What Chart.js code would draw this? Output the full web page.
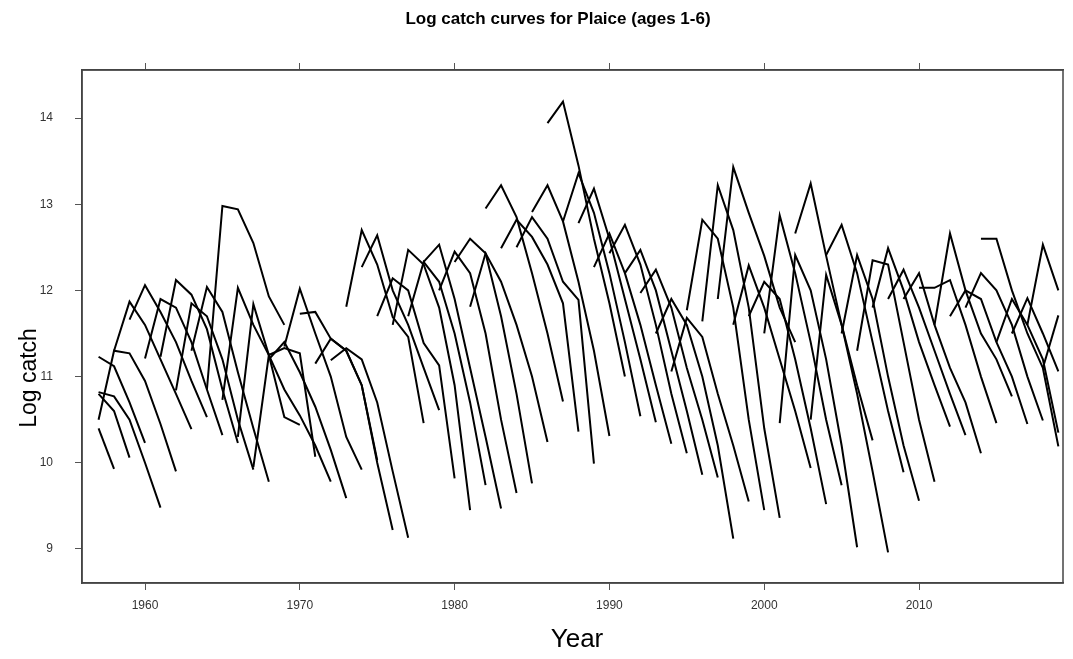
<!DOCTYPE html>
<html>
<head>
<meta charset="utf-8">
<title>Log catch curves for Plaice</title>
<script src="https://cdn.jsdelivr.net/npm/chart.js@4.4.1/dist/chart.umd.min.js"></script>
<style>
  html, body { margin: 0; padding: 0; background: #fff; }
  #wrap { width: 1073px; height: 659px; }
</style>
</head>
<body>
<div id="wrap"><canvas id="catchChart" width="1073" height="659"></canvas></div>
<script>
// Axis ticks
const xTicks = [1960, 1970, 1980, 1990, 2000, 2010];
const yTicks = [9, 10, 11, 12, 13, 14];

// First year plotted for each cohort line (age 1 year, or 1957 for older cohorts)
const firstYear = [
  1957, 1957, 1957, 1957, 1957, 1958, 1959, 1960, 1961, 1962,
  1963, 1964, 1965, 1966, 1967, 1968, 1969, 1970, 1971, 1972,
  1973, 1974, 1975, 1976, 1977, 1978, 1979, 1980, 1981, 1982,
  1983, 1984, 1985, 1986, 1987, 1988, 1989, 1990, 1991, 1992,
  1993, 1994, 1995, 1996, 1997, 1998, 1999, 2000, 2001, 2002,
  2003, 2004, 2005, 2006, 2007, 2008, 2009, 2010, 2011, 2012,
  2013, 2014, 2015, 2016, 2017, 2018
];

// Log catch by consecutive year, one list per cohort
const logCatch = [
  [10.40, 9.93],
  [10.80, 10.60, 10.06],
  [11.23, 11.12, 10.70, 10.23],
  [10.82, 10.77, 10.50, 10.00, 9.48],
  [10.50, 11.30, 11.27, 10.95, 10.45, 9.90],
  [11.30, 11.87, 11.60, 11.20, 10.80, 10.39],
  [11.66, 12.06, 11.75, 11.40, 10.95, 10.53],
  [11.21, 11.90, 11.80, 11.40, 10.85, 10.32],
  [11.23, 12.12, 11.95, 11.55, 10.85, 10.23],
  [10.84, 11.85, 11.70, 11.20, 10.50, 9.92],
  [11.30, 12.04, 11.75, 11.05, 10.40, 9.78],
  [10.85, 12.98, 12.94, 12.55, 11.93, 11.60],
  [10.73, 12.03, 11.60, 11.25, 10.53, 10.44],
  [10.30, 11.84, 11.25, 11.33, 11.27, 10.07],
  [9.95, 11.25, 10.85, 10.55, 10.20, 9.78],
  [11.20, 11.40, 11.05, 10.65, 10.15, 9.59],
  [11.35, 12.02, 11.50, 11.00, 10.30, 9.92],
  [11.73, 11.75, 11.44, 11.30, 10.90, 10.03],
  [11.15, 11.44, 11.30, 10.90, 10.00, 9.22],
  [11.19, 11.33, 11.20, 10.70, 9.90, 9.13],
  [11.81, 12.70, 12.30, 11.69, 11.46, 10.46],
  [12.27, 12.64, 12.00, 11.60, 11.10, 10.61],
  [11.70, 12.14, 12.00, 11.39, 11.13, 9.82],
  [11.60, 12.47, 12.30, 11.80, 10.90, 9.45],
  [11.70, 12.33, 12.10, 11.50, 10.70, 9.74],
  [12.33, 12.53, 11.90, 11.10, 10.30, 9.47],
  [12.00, 12.45, 12.20, 11.50, 10.50, 9.65],
  [12.33, 12.60, 12.43, 11.70, 10.80, 9.76],
  [11.81, 12.43, 12.10, 11.60, 11.00, 10.24],
  [12.95, 13.22, 12.85, 12.20, 11.50, 10.71],
  [12.49, 12.82, 12.62, 12.30, 11.85, 10.36],
  [12.50, 12.85, 12.60, 12.10, 11.89, 9.99],
  [12.91, 13.22, 12.80, 12.10, 11.30, 10.31],
  [13.94, 14.19, 13.45, 12.60, 11.85, 11.00],
  [12.80, 13.36, 12.90, 12.20, 11.40, 10.54],
  [12.78, 13.18, 12.60, 11.90, 11.20, 10.47],
  [12.27, 12.66, 12.20, 11.60, 10.90, 10.22],
  [12.43, 12.76, 12.30, 11.60, 10.80, 10.11],
  [12.20, 12.47, 12.00, 11.30, 10.60, 9.86],
  [11.97, 12.24, 11.80, 11.10, 10.50, 9.83],
  [11.50, 11.90, 11.60, 11.00, 10.20, 9.12],
  [11.06, 11.68, 11.46, 10.80, 10.20, 9.55],
  [11.77, 12.82, 12.60, 11.80, 10.50, 9.45],
  [11.64, 13.22, 12.70, 11.80, 10.40, 9.36],
  [11.90, 13.43, 12.90, 12.40, 11.80, 11.40],
  [11.60, 12.29, 11.80, 11.20, 10.60, 9.94],
  [11.70, 12.10, 11.90, 11.20, 10.40, 9.52],
  [11.50, 12.87, 12.20, 11.40, 10.50, 9.74],
  [10.46, 12.41, 12.00, 11.20, 10.20, 9.02],
  [12.66, 13.24, 12.40, 11.60, 10.90, 10.26],
  [10.50, 12.18, 11.60, 10.80, 9.90, 8.96],
  [12.41, 12.76, 12.20, 11.40, 10.60, 9.89],
  [11.50, 12.41, 11.90, 11.00, 10.20, 9.56],
  [11.30, 12.35, 12.30, 11.40, 10.50, 9.78],
  [11.80, 12.49, 12.00, 11.40, 10.90, 10.42],
  [11.90, 12.24, 11.80, 11.30, 10.80, 10.32],
  [11.90, 12.20, 11.60, 11.10, 10.70, 10.11],
  [12.03, 12.03, 12.12, 11.60, 11.00, 10.46],
  [11.60, 12.66, 12.00, 11.50, 11.20, 10.77],
  [11.70, 12.00, 11.90, 11.40, 11.00, 10.45],
  [11.80, 12.20, 12.00, 11.60, 11.00, 10.49],
  [12.60, 12.60, 12.00, 11.50, 11.10, 10.19],
  [11.40, 11.90, 11.60, 11.20, 10.35],
  [11.50, 11.91, 11.50, 11.06],
  [11.60, 12.53, 12.00],
  [11.10, 11.71]
];

const chartTitle = 'Log catch curves for Plaice (ages 1-6)';
const xLabel = 'Year';
const yLabel = 'Log catch';

// one dataset per cohort
const datasets = logCatch.map(function(vals, i) {
  return {
    data: vals.map(function(v, k) { return { x: firstYear[i] + k, y: v }; }),
    showLine: true,
    borderColor: '#000',
    borderWidth: 2,
    pointRadius: 0,
    tension: 0,
    fill: false
  };
});

const fixedTicks = function(list) {
  return function(scale) { scale.ticks = list.map(function(v) { return { value: v }; }); };
};

const fontFamily = '"Liberation Sans", Arial, sans-serif';

// box round the panel, main title and axis labels
const framePlugin = {
  id: 'frame',
  afterDatasetsDraw: function(chart) {
    const a = chart.chartArea;
    const ctx = chart.ctx;
    ctx.save();
    ctx.strokeStyle = '#444';
    ctx.lineWidth = 1.5;
    ctx.strokeRect(a.left, a.top, a.right - a.left, a.bottom - a.top);
    ctx.restore();
  },
  afterDraw: function(chart) {
    const ctx = chart.ctx;
    ctx.save();
    ctx.fillStyle = '#000';
    ctx.textAlign = 'center';
    ctx.textBaseline = 'middle';
    ctx.font = 'bold 17px ' + fontFamily;
    ctx.fillText(chartTitle, 558, 19);
    ctx.font = '26px ' + fontFamily;
    ctx.fillText(xLabel, 577, 640);
    ctx.translate(30, 378);
    ctx.rotate(-Math.PI / 2);
    ctx.font = '23px ' + fontFamily;
    ctx.fillText(yLabel, 0, 0);
    ctx.restore();
  }
};

const tickFont = { family: fontFamily, size: 12 };

new Chart(document.getElementById('catchChart'), {
  type: 'scatter',
  data: { datasets: datasets },
  plugins: [framePlugin],
  options: {
    responsive: false,
    animation: false,
    layout: { padding: { left: 0, right: 10, top: 0, bottom: 0 } },
    plugins: {
      legend: { display: false },
      tooltip: { enabled: false },
      title: { display: false }
    },
    scales: {
      x: {
        type: 'linear',
        position: 'bottom',
        min: 1955.93,
        max: 2019.3,
        afterBuildTicks: fixedTicks(xTicks),
        afterFit: function(s) { s.height = 76; },
        grid: { drawOnChartArea: false, drawTicks: true, tickLength: 7, color: '#555', lineWidth: 1 },
        border: { display: true, color: '#444', width: 1.5 },
        ticks: { color: '#333', font: tickFont, padding: 8, maxRotation: 0, callback: function(v) { return String(v); } }
      },
      xTop: {
        type: 'linear',
        position: 'top',
        min: 1955.93,
        max: 2019.3,
        afterBuildTicks: fixedTicks(xTicks),
        afterFit: function(s) { s.height = 70; },
        grid: { drawOnChartArea: false, drawTicks: true, tickLength: 7, color: '#555', lineWidth: 1 },
        border: { display: true, color: '#444', width: 1.5 },
        ticks: { display: false }
      },
      y: {
        type: 'linear',
        position: 'left',
        min: 8.605,
        max: 14.557,
        afterBuildTicks: fixedTicks(yTicks),
        afterFit: function(s) { s.width = 82; },
        grid: { drawOnChartArea: false, drawTicks: true, tickLength: 7, color: '#555', lineWidth: 1 },
        border: { display: true, color: '#444', width: 1.5 },
        ticks: { color: '#333', font: tickFont, padding: 22 }
      }
    }
  }
});
</script>
</body>
</html>
